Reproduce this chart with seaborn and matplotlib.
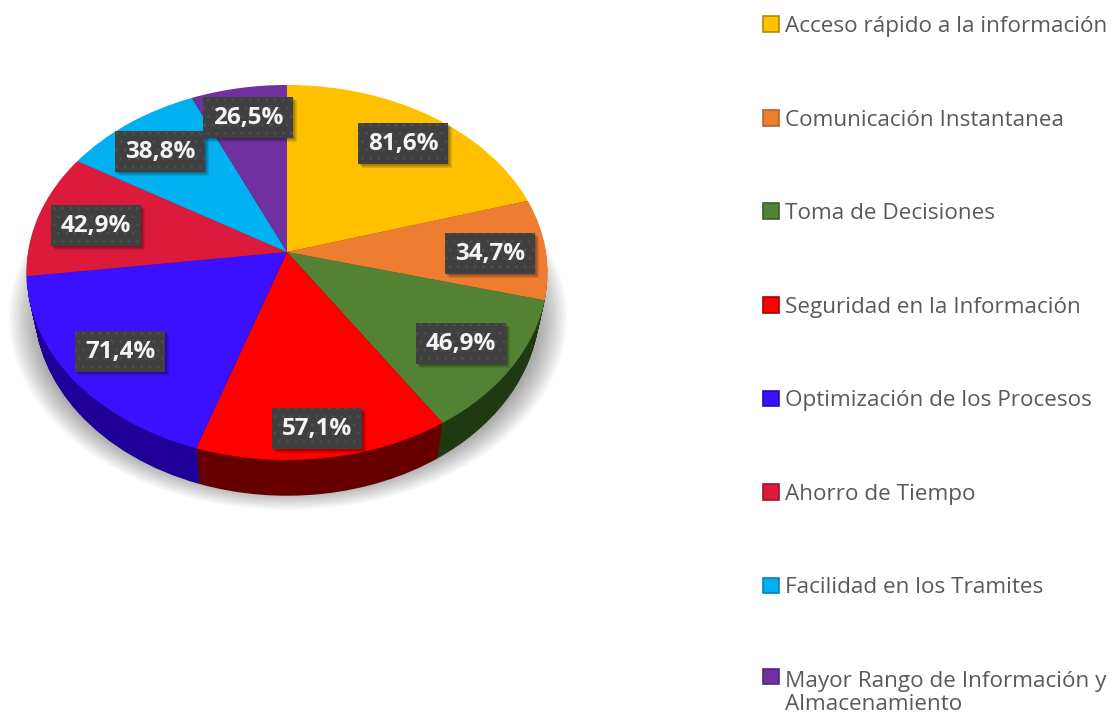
import numpy as np
import seaborn as sns
import matplotlib
matplotlib.use("Agg")
import matplotlib.pyplot as plt
from matplotlib.patches import Ellipse, Patch, Rectangle
from matplotlib.transforms import Transform

# Datos
categorias = ["Acceso rápido a la información", "Comunicación Instantanea", "Toma de Decisiones",
              "Seguridad en la Información", "Optimización de los Procesos", "Ahorro de Tiempo",
              "Facilidad en los Tramites", "Mayor Rango de Información y\nAlmacenamiento"]
valores = [81.6, 34.7, 46.9, 57.1, 71.4, 42.9, 38.8, 26.5]
etiquetas = ["81,6%", "34,7%", "46,9%", "57,1%", "71,4%", "42,9%", "38,8%", "26,5%"]

# Colores
colores = ["#FFC000", "#ED7D31", "#548235", "#FF0000", "#3A10FF", "#DC1A3C", "#00B0F0", "#7030A0"]
colores_lado = ["#7F6000", "#843C0C", "#1F3A12", "#660000", "#1E0098", "#6E0D1E", "#00587A", "#381850"]
bordes_leyenda = ["#B08A10", "#B5622A", "#3A6026", "#B00000", "#2A0AB0", "#A01230", "#0A80B0", "#52287A"]

# Centros de las cajas de texto, en pixeles
pos_etiquetas = [(403, 143), (490, 253), (461, 343), (317, 428), (120, 351), (96, 225), (160, 151), (248, 117)]

# Geometria del pastel en perspectiva
CX, CY = 287, 252
RX, RY = 259, 185.3
K = 0.1093
PROFUNDIDAD = 34


class Perspectiva(Transform):
    # circulo unitario -> elipse con el vertice fuera del centro
    input_dims = 2
    output_dims = 2

    def __init__(self, esc_x=1.0, esc_y=1.0, dy=0.0):
        super().__init__()
        self.esc_x, self.esc_y, self.dy = esc_x, esc_y, dy

    def transform_non_affine(self, values):
        values = np.asarray(values, dtype=float)
        d = 1 + K * values[:, 1]
        return np.column_stack([CX + RX * self.esc_x * values[:, 0] / d,
                                CY + self.dy - RY * self.esc_y * values[:, 1] / d])


sns.set_theme(style="white")
plt.rcParams["font.family"] = ["Open Sans", "DejaVu Sans"]

fig = plt.figure(figsize=(11.14, 7.19), dpi=100)
ax = fig.add_axes([0, 0, 1, 1])


def dibujar_pastel(cols, trans, zorder):
    wedges, _ = ax.pie(valores, colors=cols, startangle=90, counterclock=False,
                       wedgeprops={"linewidth": 0})
    for w in wedges:
        w.set_transform(trans + ax.transData)
        w.set_zorder(zorder)


# Sombra difusa debajo del pastel
for i in range(16):
    ax.add_patch(Ellipse((288, 318), 2 * (279 - i * 2.2), 2 * (192 - i * 1.6),
                         facecolor="#000000", alpha=0.028, linewidth=0, zorder=1))

# Lado del cilindro
for d in range(PROFUNDIDAD, 0, -1):
    t = d / PROFUNDIDAD
    dibujar_pastel(colores_lado, Perspectiva(1 - 0.03 * t, 1 + 0.013 * t, 33 * t), 2 + (PROFUNDIDAD - d) * 0.001)

# Cara superior
dibujar_pastel(colores, Perspectiva(), 3)

ax.set_aspect("auto")
ax.set_xlim(0, 1114)
ax.set_ylim(719, 0)
ax.axis("off")

# Etiquetas
for (x, y), txt in zip(pos_etiquetas, etiquetas):
    # sombra suave de la caja
    for s in range(1, 5):
        ax.add_patch(Rectangle((x - 45 + s, y - 20.5 + s), 90, 41, facecolor="#000000", alpha=0.1,
                               linewidth=0, zorder=4))
    ax.add_patch(Rectangle((x - 45, y - 20.5), 90, 41, facecolor="#404040", edgecolor="#4E4E4E",
                           linewidth=0, hatch="..", zorder=4.5))
    ax.text(x, y + 1, txt, color="#F4F4F4", fontsize=17.5, fontweight="bold", ha="center", va="center", zorder=5)

# Leyenda
handles = [Patch(facecolor=c, edgecolor=b, linewidth=1.2, label=n)
           for c, b, n in zip(colores, bordes_leyenda, categorias)]
leg = ax.legend(handles=handles, loc="upper left", bbox_to_anchor=(763, 16), bbox_transform=ax.transData,
                frameon=False, fontsize=16.2, labelcolor="#595959", borderpad=0, borderaxespad=0,
                handlelength=0.73, handleheight=0.7, handletextpad=0.24, labelspacing=3.225)
for t in leg.get_texts():
    t.set_linespacing(1.15)
ultimo = leg.legend_handles[-1]
ultimo.set_y(ultimo.get_y() + 12)

fig.savefig("out.png", dpi=100)
